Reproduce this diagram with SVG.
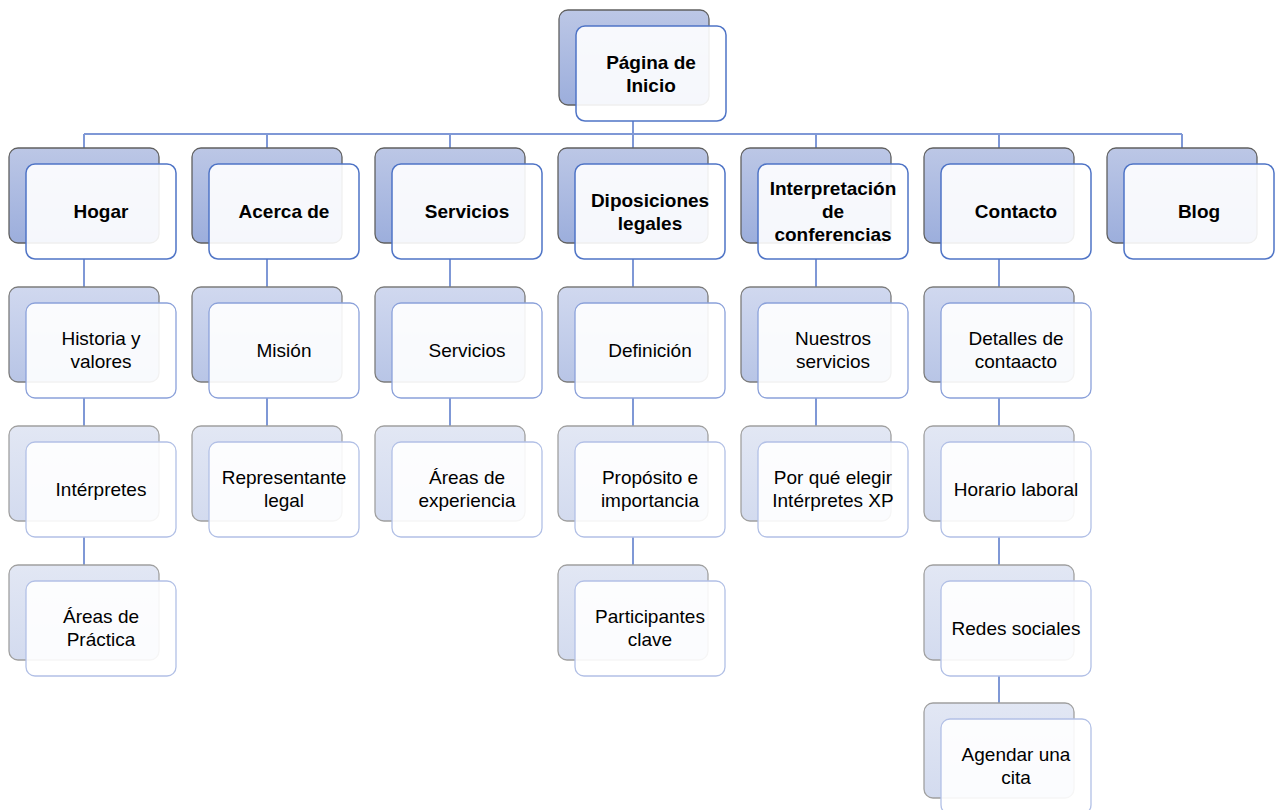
<svg xmlns="http://www.w3.org/2000/svg" width="1281" height="810" viewBox="0 0 1281 810">
<defs>
<linearGradient id="g1" x1="0" y1="0" x2="0" y2="1"><stop offset="0" stop-color="#bcc7e6"/><stop offset="1" stop-color="#9caedc"/></linearGradient>
<linearGradient id="g2" x1="0" y1="0" x2="0" y2="1"><stop offset="0" stop-color="#d0d8ef"/><stop offset="1" stop-color="#b8c5e6"/></linearGradient>
<linearGradient id="g3" x1="0" y1="0" x2="0" y2="1"><stop offset="0" stop-color="#e2e7f4"/><stop offset="1" stop-color="#d3dbef"/></linearGradient>
<style>
.b1{fill:url(#g1);stroke:#606060;stroke-width:1.3}
.b2{fill:url(#g2);stroke:#7c7c7c;stroke-width:1.3}
.b3{fill:url(#g3);stroke:#a0a0a0;stroke-width:1.3}
.f1{fill:#ffffff;fill-opacity:0.9;stroke:#4f74c6;stroke-width:1.5}
.f2{fill:#ffffff;fill-opacity:0.9;stroke:#8ba1da;stroke-width:1.3}
.f3{fill:#ffffff;fill-opacity:0.9;stroke:#b2c0e6;stroke-width:1.3}
.t{font-family:"Liberation Sans",Arial,sans-serif;font-size:19px;fill:#000;text-anchor:middle}
.tb{font-weight:bold}
.c{stroke:#7f98d6;stroke-width:2;fill:none}
</style>
</defs>
<g id="connectors">
<path class="c" d="M633,121V134M84,134H1182M84,134V148M267,134V148M450,134V148M633,134V148M816,134V148M999,134V148M1182,134V148"/>
<path class="c" d="M84,259V287M84,398V426M84,537V565"/>
<path class="c" d="M267,259V287M267,398V426"/>
<path class="c" d="M450,259V287M450,398V426"/>
<path class="c" d="M633,259V287M633,398V426M633,537V565"/>
<path class="c" d="M816,259V287M816,398V426"/>
<path class="c" d="M999,259V287M999,398V426M999,537V565M999,676V703"/>
</g>
<g id="n-inicio"><rect class="b1" x="559" y="10" width="150" height="95" rx="9"/><rect class="f1" x="576" y="26" width="150" height="95" rx="9"/><text class="t tb" x="651"><tspan x="651" y="69">Página de</tspan><tspan x="651" y="92">Inicio</tspan></text></g>

<g id="n-hogar"><rect class="b1" x="9" y="148" width="150" height="95" rx="9"/><rect class="f1" x="26" y="164" width="150" height="95" rx="9"/><text class="t tb" x="101" y="218">Hogar</text></g>
<g id="n-acerca"><rect class="b1" x="192" y="148" width="150" height="95" rx="9"/><rect class="f1" x="209" y="164" width="150" height="95" rx="9"/><text class="t tb" x="284" y="218">Acerca de</text></g>
<g id="n-servicios"><rect class="b1" x="375" y="148" width="150" height="95" rx="9"/><rect class="f1" x="392" y="164" width="150" height="95" rx="9"/><text class="t tb" x="467" y="218">Servicios</text></g>
<g id="n-diposiciones"><rect class="b1" x="558" y="148" width="150" height="95" rx="9"/><rect class="f1" x="575" y="164" width="150" height="95" rx="9"/><text class="t tb"><tspan x="650" y="207">Diposiciones</tspan><tspan x="650" y="230">legales</tspan></text></g>
<g id="n-interpretacion"><rect class="b1" x="741" y="148" width="150" height="95" rx="9"/><rect class="f1" x="758" y="164" width="150" height="95" rx="9"/><text class="t tb"><tspan x="833" y="195">Interpretación</tspan><tspan x="833" y="218">de</tspan><tspan x="833" y="241">conferencias</tspan></text></g>
<g id="n-contacto"><rect class="b1" x="924" y="148" width="150" height="95" rx="9"/><rect class="f1" x="941" y="164" width="150" height="95" rx="9"/><text class="t tb" x="1016" y="218">Contacto</text></g>
<g id="n-blog"><rect class="b1" x="1107" y="148" width="150" height="95" rx="9"/><rect class="f1" x="1124" y="164" width="150" height="95" rx="9"/><text class="t tb" x="1199" y="218">Blog</text></g>

<g id="n-historia"><rect class="b2" x="9" y="287" width="150" height="95" rx="9"/><rect class="f2" x="26" y="303" width="150" height="95" rx="9"/><text class="t"><tspan x="101" y="345">Historia y</tspan><tspan x="101" y="368">valores</tspan></text></g>
<g id="n-interpretes"><rect class="b3" x="9" y="426" width="150" height="95" rx="9"/><rect class="f3" x="26" y="442" width="150" height="95" rx="9"/><text class="t" x="101" y="496">Intérpretes</text></g>
<g id="n-areas-practica"><rect class="b3" x="9" y="565" width="150" height="95" rx="9"/><rect class="f3" x="26" y="581" width="150" height="95" rx="9"/><text class="t"><tspan x="101" y="623">Áreas de</tspan><tspan x="101" y="646">Práctica</tspan></text></g>

<g id="n-mision"><rect class="b2" x="192" y="287" width="150" height="95" rx="9"/><rect class="f2" x="209" y="303" width="150" height="95" rx="9"/><text class="t" x="284" y="357">Misión</text></g>
<g id="n-representante"><rect class="b3" x="192" y="426" width="150" height="95" rx="9"/><rect class="f3" x="209" y="442" width="150" height="95" rx="9"/><text class="t"><tspan x="284" y="484">Representante</tspan><tspan x="284" y="507">legal</tspan></text></g>

<g id="n-servicios2"><rect class="b2" x="375" y="287" width="150" height="95" rx="9"/><rect class="f2" x="392" y="303" width="150" height="95" rx="9"/><text class="t" x="467" y="357">Servicios</text></g>
<g id="n-areas-exp"><rect class="b3" x="375" y="426" width="150" height="95" rx="9"/><rect class="f3" x="392" y="442" width="150" height="95" rx="9"/><text class="t"><tspan x="467" y="484">Áreas de</tspan><tspan x="467" y="507">experiencia</tspan></text></g>

<g id="n-definicion"><rect class="b2" x="558" y="287" width="150" height="95" rx="9"/><rect class="f2" x="575" y="303" width="150" height="95" rx="9"/><text class="t" x="650" y="357">Definición</text></g>
<g id="n-proposito"><rect class="b3" x="558" y="426" width="150" height="95" rx="9"/><rect class="f3" x="575" y="442" width="150" height="95" rx="9"/><text class="t"><tspan x="650" y="484">Propósito e</tspan><tspan x="650" y="507">importancia</tspan></text></g>
<g id="n-participantes"><rect class="b3" x="558" y="565" width="150" height="95" rx="9"/><rect class="f3" x="575" y="581" width="150" height="95" rx="9"/><text class="t"><tspan x="650" y="623">Participantes</tspan><tspan x="650" y="646">clave</tspan></text></g>

<g id="n-nuestros"><rect class="b2" x="741" y="287" width="150" height="95" rx="9"/><rect class="f2" x="758" y="303" width="150" height="95" rx="9"/><text class="t"><tspan x="833" y="345">Nuestros</tspan><tspan x="833" y="368">servicios</tspan></text></g>
<g id="n-porque"><rect class="b3" x="741" y="426" width="150" height="95" rx="9"/><rect class="f3" x="758" y="442" width="150" height="95" rx="9"/><text class="t"><tspan x="833" y="484">Por qué elegir</tspan><tspan x="833" y="507">Intérpretes XP</tspan></text></g>

<g id="n-detalles"><rect class="b2" x="924" y="287" width="150" height="95" rx="9"/><rect class="f2" x="941" y="303" width="150" height="95" rx="9"/><text class="t"><tspan x="1016" y="345">Detalles de</tspan><tspan x="1016" y="368">contaacto</tspan></text></g>
<g id="n-horario"><rect class="b3" x="924" y="426" width="150" height="95" rx="9"/><rect class="f3" x="941" y="442" width="150" height="95" rx="9"/><text class="t" x="1016" y="496">Horario laboral</text></g>
<g id="n-redes"><rect class="b3" x="924" y="565" width="150" height="95" rx="9"/><rect class="f3" x="941" y="581" width="150" height="95" rx="9"/><text class="t" x="1016" y="635">Redes sociales</text></g>
<g id="n-agendar"><rect class="b3" x="924" y="703" width="150" height="95" rx="9"/><rect class="f3" x="941" y="719" width="150" height="95" rx="9"/><text class="t"><tspan x="1016" y="761">Agendar una</tspan><tspan x="1016" y="784">cita</tspan></text></g>
</svg>
